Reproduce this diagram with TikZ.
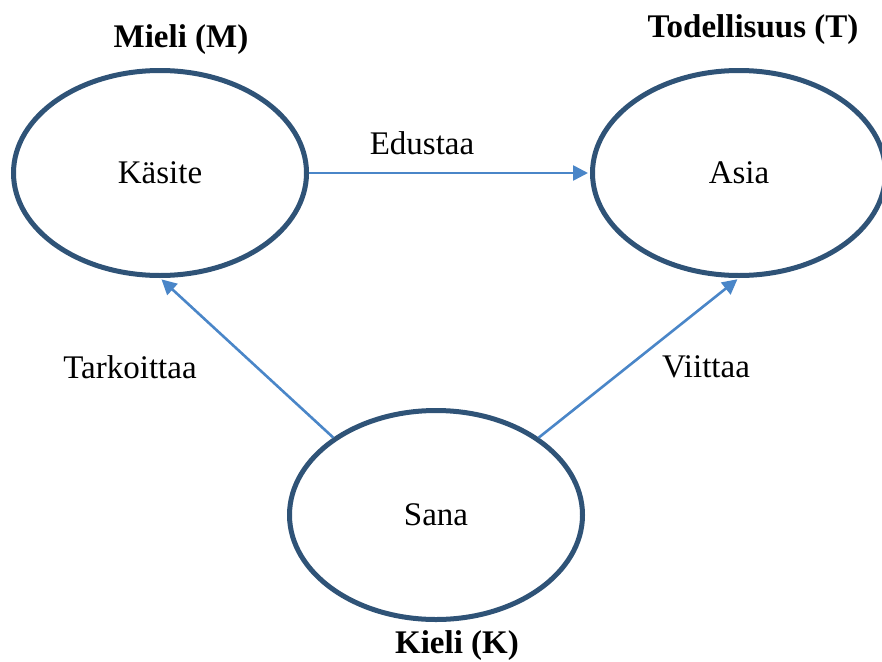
\documentclass[tikz,border=0pt]{standalone}
\usepackage{fontspec}
\setmainfont{Liberation Serif}
\usetikzlibrary{shapes.geometric,arrows.meta}
\definecolor{ringblue}{HTML}{2F5377}
\definecolor{arrowblue}{HTML}{4A86C8}
\tikzset{
  ring/.style={ellipse, draw=ringblue, line width=5pt, minimum width=293pt, minimum height=205pt},
  link/.style={draw=arrowblue, line width=2.6pt, -{Triangle[length=15pt,width=15pt]}, shorten >=2pt},
  realm/.style={font=\bfseries\fontsize{33}{36}\selectfont}
}
\begin{document}
\begin{tikzpicture}[x=1pt,y=-1pt]
  \useasboundingbox (0,0) rectangle (882,661);
  \begin{scope}[every node/.style={font=\fontsize{33}{36}\selectfont}]

    \node[ring] (kasite) at (160,173) {Käsite};
    \node[ring] (asia) at (739,173) {Asia};
    \node[ring, minimum height=209pt] (sana) at (436,515) {Sana};

    \node[realm] (mieli) at (181,40) {Mieli (M)};
    \node[realm] (todellisuus) at (753,30) {Todellisuus (T)};
    \node[realm] (kieli) at (457,646) {Kieli (K)};

    \node (edustaa) at (422,143) {Edustaa};
    \node (tarkoittaa) at (130,367) {Tarkoittaa};
    \node (viittaa) at (706,367) {Viittaa};

    \draw[link] (kasite.east) -- (asia.west);
    \draw[link] (sana.143) -- (kasite.south);
    \draw[link] (sana.37) -- (asia.south);
  \end{scope}
\end{tikzpicture}
\end{document}
